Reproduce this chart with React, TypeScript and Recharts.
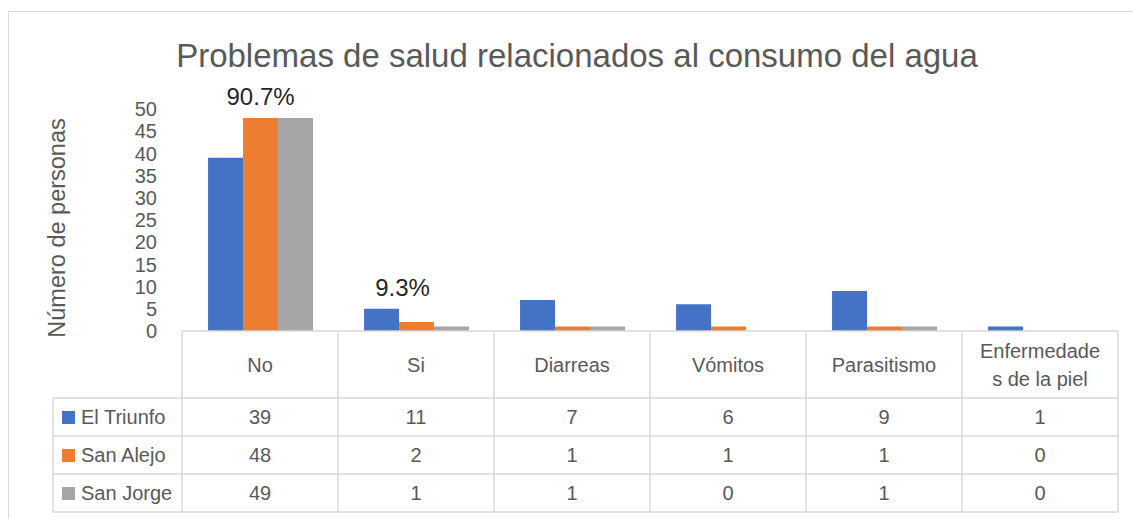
import { BarChart, Bar, XAxis, YAxis, LabelList } from 'recharts';

// categorías del eje / encabezado de la tabla
const categories = ['No', 'Si', 'Diarreas', 'Vómitos', 'Parasitismo', 'Enfermedades de la piel'];
const seriesNames = ['El Triunfo', 'San Alejo', 'San Jorge'];

// alturas de las barras tal como se dibujan
const elTriunfoBars = [39, 5, 7, 6, 9, 1];
const sanAlejoBars = [48, 2, 1, 1, 1, 0];
const sanJorgeBars = [48, 1, 1, 0, 1, 0];

// números que aparecen en la tabla de datos
const elTriunfoTable = [39, 11, 7, 6, 9, 1];
const sanAlejoTable = [48, 2, 1, 1, 1, 0];
const sanJorgeTable = [49, 1, 1, 0, 1, 0];

const percentLabels = ['90.7%', '9.3%', '', '', '', ''];
const yTicks = [0, 5, 10, 15, 20, 25, 30, 35, 40, 45, 50];

const COLORS = ['#4472C4', '#ED7D31', '#A5A5A5'];
const TEXT = '#595959';
const GRID = '#d9d9d9';

const W = 1133;
const H = 519;
const PLOT_LEFT = 182;
const PLOT_RIGHT = 1118;
const PLOT_TOP = 109;
const PLOT_BOTTOM = 331;
const Y_MAX = 50;
const Y_AXIS_W = 60;
const COL_W = (PLOT_RIGHT - PLOT_LEFT) / categories.length;
const HEADER_BOTTOM = 398;
const ROW_H = 38;
const LEGEND_LEFT = 53;
const LABEL_DX = [0, -14, 0, 0, 0, 0]; // el 9.3% está corrido a la izquierda

const tableRows = [elTriunfoTable, sanAlejoTable, sanJorgeTable];

const data = categories.map((name, i) => ({
    name,
    elTriunfo: elTriunfoBars[i],
    sanAlejo: sanAlejoBars[i],
    sanJorge: sanJorgeBars[i],
    pct: percentLabels[i],
}));

const renderPct = (props: any) => {
    const { x, width, value } = props;
    if (!value) return null;
    const i = typeof props.index === 'number' ? props.index : percentLabels.indexOf(value);
    const groupMax = Math.max(elTriunfoBars[i], sanAlejoBars[i], sanJorgeBars[i]);
    const top = PLOT_TOP + (PLOT_BOTTOM - PLOT_TOP) * (1 - groupMax / Y_MAX);
    return (
        <text x={Number(x) + Number(width) / 2 + LABEL_DX[i]} y={top - 13} textAnchor="middle" fontSize={24} fill="#262626">
            {value}
        </text>
    );
};

export default function App() {
    const tableBottom = HEADER_BOTTOM + ROW_H * seriesNames.length;

    return (
        <div style={{ position: 'relative', width: W, height: H, overflow: 'hidden', background: '#fff', fontFamily: '"Liberation Sans", Arial, sans-serif' }}>
            <style>{`body{margin:0}`}</style>

            {/* marco exterior */}
            <div style={{ position: 'absolute', left: 8, top: 11, width: W, height: H, border: `1px solid ${GRID}` }} />

            <BarChart
                width={W}
                height={H}
                data={data}
                margin={{ top: PLOT_TOP, right: W - PLOT_RIGHT, bottom: H - PLOT_BOTTOM, left: PLOT_LEFT - Y_AXIS_W }}
                barCategoryGap="16.7%"
                barGap={0}
                style={{ position: 'absolute', left: 0, top: 0 }}
            >
                <XAxis dataKey="name" hide />
                <YAxis
                    domain={[0, Y_MAX]}
                    ticks={yTicks}
                    interval={0}
                    width={Y_AXIS_W}
                    axisLine={false}
                    tickLine={false}
                    tickSize={0}
                    tickMargin={25}
                    tick={{ fill: TEXT, fontSize: 20 }}
                />
                <Bar dataKey="elTriunfo" fill={COLORS[0]} isAnimationActive={false} />
                <Bar dataKey="sanAlejo" fill={COLORS[1]} isAnimationActive={false}>
                    <LabelList dataKey="pct" content={renderPct} />
                </Bar>
                <Bar dataKey="sanJorge" fill={COLORS[2]} isAnimationActive={false} />
            </BarChart>

            {/* título, eje y líneas de la tabla */}
            <svg width={W} height={H} style={{ position: 'absolute', left: 0, top: 0, pointerEvents: 'none' }}>
                <text x={577} y={67} textAnchor="middle" fontSize={33} fill={TEXT}>
                    Problemas de salud relacionados al consumo del agua
                </text>
                <text transform="translate(65,228) rotate(-90)" textAnchor="middle" fontSize={23.5} fill={TEXT}>
                    Número de personas
                </text>

                <line x1={PLOT_LEFT} x2={PLOT_RIGHT} y1={PLOT_BOTTOM} y2={PLOT_BOTTOM} stroke={GRID} strokeWidth={1.5} />
                {seriesNames.map((_, r) => (
                    <line key={`h${r}`} x1={LEGEND_LEFT} x2={PLOT_RIGHT} y1={HEADER_BOTTOM + r * ROW_H} y2={HEADER_BOTTOM + r * ROW_H} stroke={GRID} strokeWidth={1.5} />
                ))}
                <line x1={LEGEND_LEFT} x2={PLOT_RIGHT} y1={tableBottom} y2={tableBottom} stroke={GRID} strokeWidth={1.5} />
                <line x1={LEGEND_LEFT} x2={LEGEND_LEFT} y1={HEADER_BOTTOM} y2={tableBottom} stroke={GRID} strokeWidth={1.5} />
                {[...categories, ''].map((_, i) => (
                    <line key={`v${i}`} x1={PLOT_LEFT + i * COL_W} x2={PLOT_LEFT + i * COL_W} y1={PLOT_BOTTOM} y2={tableBottom} stroke={GRID} strokeWidth={1.5} />
                ))}
            </svg>

            {/* encabezado de categorías */}
            {categories.map((cat, i) => (
                <div
                    key={cat}
                    style={{
                        position: 'absolute', left: PLOT_LEFT + i * COL_W, top: PLOT_BOTTOM, width: COL_W, height: HEADER_BOTTOM - PLOT_BOTTOM,
                        display: 'flex', alignItems: 'center', justifyContent: 'center', color: TEXT, fontSize: 20, lineHeight: '28px', textAlign: 'center',
                    }}
                >
                    <div style={{ width: 126, wordBreak: 'break-all' }}>{cat}</div>
                </div>
            ))}

            {/* filas de la tabla con leyenda */}
            {seriesNames.map((s, r) => (
                <div key={s}>
                    <div style={{ position: 'absolute', left: LEGEND_LEFT, top: HEADER_BOTTOM + r * ROW_H, width: PLOT_LEFT - LEGEND_LEFT, height: ROW_H, display: 'flex', alignItems: 'center', color: TEXT, fontSize: 20 }}>
                        <span style={{ display: 'inline-block', width: 13, height: 13, background: COLORS[r], marginLeft: 9, marginRight: 6 }} />
                        <span>{s}</span>
                    </div>
                    {tableRows[r].map((v, i) => (
                        <div key={i} style={{ position: 'absolute', left: PLOT_LEFT + i * COL_W, top: HEADER_BOTTOM + r * ROW_H, width: COL_W, height: ROW_H, display: 'flex', alignItems: 'center', justifyContent: 'center', color: TEXT, fontSize: 20 }}>
                            {v}
                        </div>
                    ))}
                </div>
            ))}
        </div>
    );
}
